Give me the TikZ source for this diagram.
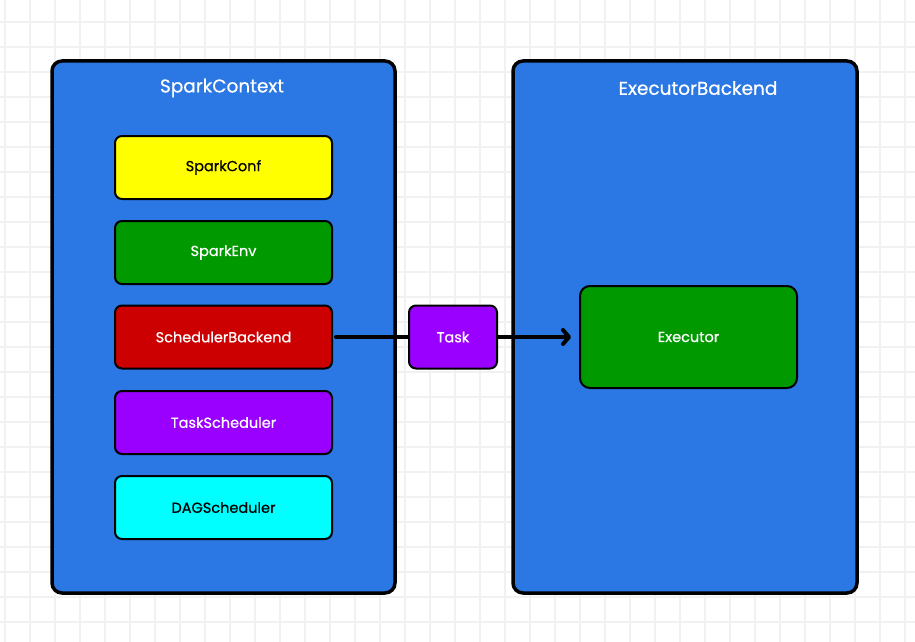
\documentclass[tikz,border=0pt]{standalone}
\usepackage{fontspec}
\setmainfont{Poppins}[FakeBold=0.6]
\usetikzlibrary{arrows.meta}
\definecolor{gridc}{HTML}{F1F1F1}
\definecolor{bluebg}{HTML}{2B78E4}
\definecolor{yel}{HTML}{FFFF00}
\definecolor{grn}{HTML}{009900}
\definecolor{rd}{HTML}{CC0000}
\definecolor{pur}{HTML}{9900FF}
\definecolor{cyn}{HTML}{00FFFF}
\tikzset{
  outerbox/.style={draw=black, line width=3.5pt, fill=bluebg, rounded corners=10pt},
  innerbox/.style={draw=black, line width=2pt, rounded corners=7pt, minimum width=217pt, minimum height=63pt, font=\fontsize{14.5}{16}\selectfont, inner sep=0pt},
  title/.style={text=white, font=\fontsize{18.5}{20}\selectfont},
  conn/.style={line width=4pt, line cap=round},
}
\begin{document}
\begin{tikzpicture}[x=1pt,y=-1pt]
\fill[white] (0,0) rectangle (915,642);
\useasboundingbox (0,0) rectangle (915,642);
\foreach \x in {5,30,...,915} \draw[gridc, line width=1.6pt] (\x,0) -- (\x,642);
\foreach \y in {22,47,...,642} \draw[gridc, line width=1.6pt] (0,\y) -- (915,\y);
% outer boxes
\draw[outerbox] (52,61) rectangle (395,593);
\draw[outerbox] (513,61) rectangle (857,593);
\node[title] (sc) at (222,88) {SparkContext};
\node[title] (eb) at (698,88) {ExecutorBackend};
% inner
\node[innerbox, fill=yel, text=black] (conf) at (223.5,167.5) {SparkConf};
\node[innerbox, fill=grn, text=white] (env) at (223.5,252.5) {SparkEnv};
\node[innerbox, fill=rd, text=white] (sb) at (223.5,337) {SchedulerBackend};
\node[innerbox, fill=pur, text=white] (ts) at (223.5,422.5) {TaskScheduler};
\node[innerbox, fill=cyn, text=black] (dag) at (223.5,507.5) {DAGScheduler};
\node[innerbox, fill=pur, text=white, minimum width=88pt, minimum height=63pt] (task) at (453,337) {Task};
\node[innerbox, fill=grn, text=white, minimum width=217pt, minimum height=102pt, rounded corners=10pt] (exe) at (688.5,337) {Executor};
\coordinate (sbe) at ([xshift=3pt]sb.east);
\draw[conn] (sbe) -- (task.west);
\draw[conn, -{Straight Barb[round, length=6pt, width=14pt]}] (task.east) -- ([xshift=-8pt]exe.west);
\end{tikzpicture}
\end{document}
